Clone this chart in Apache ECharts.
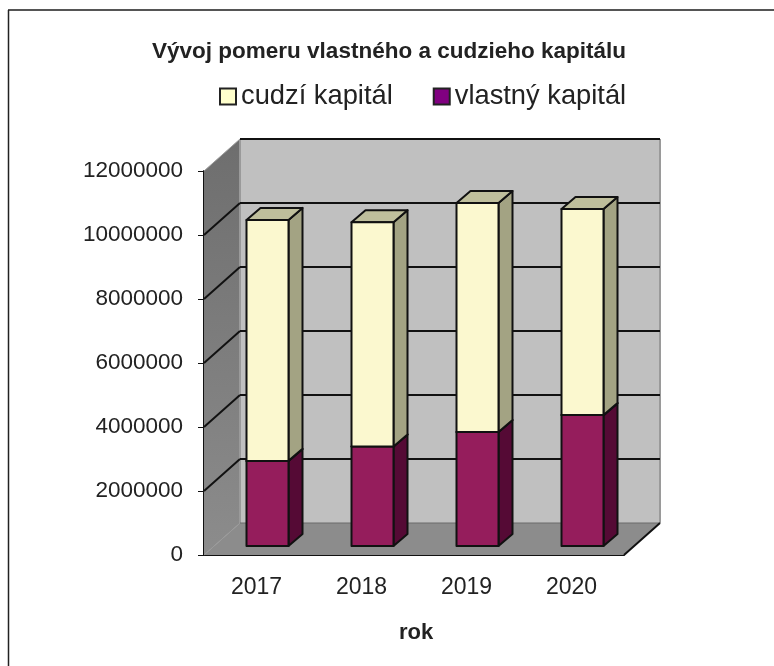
<!DOCTYPE html>
<html>
<head>
<meta charset="utf-8">
<style>
    html, body { margin: 0; padding: 0; background: #fff; }
    #chart { width: 774px; height: 666px; }
</style>
<script src="https://cdn.jsdelivr.net/npm/echarts@6/dist/echarts.min.js"></script>
</head>
<body>
<div id="chart"></div>
<script>
var years = ['2017', '2018', '2019', '2020'];
var vlastny = [2660000, 3110000, 3560000, 4090000];
var cudzi = [7530000, 7010000, 7160000, 6440000];
var yTicks = [0, 2000000, 4000000, 6000000, 8000000, 10000000, 12000000];

// posun zadnej steny a hlbka stlpca v pixeloch
var wallDepth = [36, -32];
var barShift = [11, -9];
var barDepth = [14, -12];
var barRatio = 0.4;

var chart = echarts.init(document.getElementById('chart'));

function poly(points, fill, stroke, lineWidth) {
    return {
        type : 'polygon',
        shape : { points : points },
        style : { fill : fill, stroke : stroke || null, lineWidth : lineWidth || 0, lineJoin : 'round' }
    };
}

function line(x1, y1, x2, y2, color, width) {
    return {
        type : 'line',
        shape : { x1 : x1, y1 : y1, x2 : x2, y2 : y2 },
        style : { stroke : color, lineWidth : width }
    };
}

// steny, podlaha a mriezka
function renderWalls(params, api) {
    var cs = params.coordSys;
    var dx = wallDepth[0], dy = wallDepth[1];
    var l = cs.x, r = cs.x + cs.width, t = cs.y, b = cs.y + cs.height;
    var els = [];
    els.push(poly([[l + dx, t + dy], [r + dx, t + dy], [r + dx, b + dy], [l + dx, b + dy]], '#c0c0c0'));
    els.push(poly([[l, t], [l + dx, t + dy], [l + dx, b + dy], [l, b]], {
        type : 'linear', x : 0, y : 0, x2 : 0, y2 : 1,
        colorStops : [{ offset : 0, color : '#6e6e6e' }, { offset : 1, color : '#8c8c8c' }]
    }));
    els.push(poly([[l, b], [l + dx, b + dy], [r + dx, b + dy], [r, b]], '#8c8c8c'));
    els.push(line(l, t, l + dx, t + dy, '#9a9a9a', 1));
    els.push(line(l + dx, t + dy, l + dx, b + dy, '#9a9a9a', 2));
    els.push(line(r + dx, t + dy, r + dx, b + dy, '#9a9a9a', 2));
    els.push(line(l, b, l + dx, b + dy, '#9a9a9a', 1));
    els.push(line(l + dx, b + dy, r + dx, b + dy, '#6a6a6a', 1));
    els.push(line(r, b, r + dx, b + dy, '#111', 2));
    for (var i = 1; i < yTicks.length; i++) {
        var y = api.coord([0, yTicks[i]])[1];
        if (i < yTicks.length - 1) {
            els.push(line(l, y, l + dx, y + dy, '#111', 2));
        }
        els.push(line(l + dx, y + dy, r + dx, y + dy, '#111', 2));
    }
    return { type : 'group', children : els };
}

// jeden 3D stlpec, hodnoty [rok, od, do]
function barRenderer(front, side, top) {
    return function(params, api) {
        var c = api.value(0);
        var p0 = api.coord([c, api.value(1)]);
        var p1 = api.coord([c, api.value(2)]);
        var w = api.size([1, 0])[0] * barRatio;
        var x0 = p0[0] - w / 2 + barShift[0], x1 = x0 + w;
        var y0 = p0[1] + barShift[1], y1 = p1[1] + barShift[1];
        var dx = barDepth[0], dy = barDepth[1];
        var stroke = '#111';
        return {
            type : 'group',
            children : [
                poly([[x1, y1], [x1 + dx, y1 + dy], [x1 + dx, y0 + dy], [x1, y0]], side, stroke, 2),
                poly([[x0, y1], [x0 + dx, y1 + dy], [x1 + dx, y1 + dy], [x1, y1]], top, stroke, 2),
                poly([[x0, y1], [x1, y1], [x1, y0], [x0, y0]], front, stroke, 2)
            ]
        };
    };
}

var vlastnyData = [], cudziData = [];
for (var i = 0; i < years.length; i++) {
    vlastnyData.push([i, 0, vlastny[i]]);
    cudziData.push([i, vlastny[i], vlastny[i] + cudzi[i]]);
}

var fontName = '"Liberation Sans", Arial, sans-serif';

chart.setOption({
    animation : false,
    backgroundColor : '#fff',
    title : {
        text : 'Vývoj pomeru vlastného a cudzieho kapitálu',
        left : 384, top : 35, textAlign : 'center',
        textStyle : { fontFamily : fontName, fontSize : 22.5, fontWeight : 'bold', color : '#222' }
    },
    legend : {
        left : 214, top : 78,
        data : ['cudzí kapitál', 'vlastný kapitál'],
        icon : 'rect',
        itemWidth : 16, itemHeight : 16, itemGap : 40,
        textStyle : { fontFamily : fontName, fontSize : 27.3, color : '#222', padding : [0, 0, 0, 0] }
    },
    grid : { left : 204, right : 150, top : 171, bottom : 111 },
    xAxis : {
        type : 'category',
        data : years,
        name : 'rok',
        nameLocation : 'middle',
        nameGap : 67,
        nameTextStyle : { fontFamily : fontName, fontSize : 22, fontWeight : 'bold', color : '#222', padding : [0, 0, 0, 4] },
        axisLine : { lineStyle : { color : '#111', width : 2 } },
        axisTick : { length : 7, lineStyle : { color : '#111', width : 1 } },
        axisLabel : { fontFamily : fontName, fontSize : 23, color : '#222', margin : 21 },
        splitLine : { show : false }
    },
    yAxis : {
        type : 'value',
        min : 0, max : 12000000, interval : 2000000,
        axisLine : { show : true, lineStyle : { color : '#111', width : 2 } },
        axisTick : { show : true, length : 6, lineStyle : { color : '#111', width : 1 } },
        axisLabel : {
            fontFamily : fontName, fontSize : 22.5, color : '#222', margin : 21,
            formatter : function(v) { return String(v); }
        },
        splitLine : { show : false }
    },
    series : [
        {
            type : 'custom', name : 'steny', z : 1, silent : true,
            renderItem : renderWalls,
            data : [[0, 0]],
            encode : { x : 0, y : 1 },
            clip : false
        },
        {
            type : 'custom', name : 'vlastný kapitál', z : 3,
            renderItem : barRenderer('#951d5c', '#550a35', '#7a184c'),
            itemStyle : { color : '#800080', borderColor : '#222', borderWidth : 2 },
            data : vlastnyData,
            encode : { x : 0, y : [1, 2] },
            clip : false
        },
        {
            type : 'custom', name : 'cudzí kapitál', z : 4,
            renderItem : barRenderer('#fbf8cf', '#a3a383', '#bfbf9c'),
            itemStyle : { color : '#ffffcc', borderColor : '#222', borderWidth : 2 },
            data : cudziData,
            encode : { x : 0, y : [1, 2] },
            clip : false
        }
    ],
    graphic : [
        {
            type : 'line', silent : true,
            shape : { x1 : 8, y1 : 10, x2 : 774, y2 : 10 },
            style : { stroke : '#555', lineWidth : 2 }
        },
        {
            type : 'line', silent : true,
            shape : { x1 : 8.5, y1 : 10, x2 : 8.5, y2 : 666 },
            style : { stroke : '#222', lineWidth : 1.5 }
        }
    ]
});
</script>
</body>
</html>
